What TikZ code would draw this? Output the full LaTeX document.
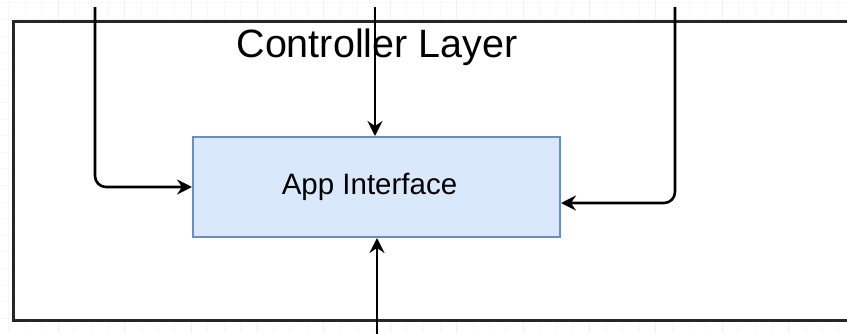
\documentclass[tikz,border=0pt]{standalone}
\usepackage{fontspec}
\setmainfont{Liberation Sans}
\usetikzlibrary{arrows.meta}
\definecolor{boxfill}{HTML}{DAE8FC}
\definecolor{boxdraw}{HTML}{6C8EBF}
\definecolor{gridminor}{HTML}{F7F7F7}
\definecolor{gridmajor}{HTML}{EFEFEF}
\tikzset{
  conn/.style={draw=black, line width=2.6pt, rounded corners=11pt,
    -{Stealth[length=15pt, width=15pt, inset=5pt]}},
  appbox/.style={draw=boxdraw, fill=boxfill, line width=2pt,
    minimum width=367pt, minimum height=100pt, inner sep=0pt,
    font=\fontsize{29.5}{34}\selectfont},
  layerbox/.style={draw=black!85, fill=white, line width=3pt},
  titletext/.style={font=\fontsize{39.5}{44}\selectfont, inner sep=0pt}
}
\begin{document}
\begin{tikzpicture}[x=1pt,y=-1pt]
\useasboundingbox (0,0) rectangle (847,333);
\clip (0,0) rectangle (847,333);
% background grid
\foreach \k in {-3,...,47} {
  \draw[gridminor, line width=1pt] ({58.3+\k*16.6},0) -- ({58.3+\k*16.6},333);
}
\foreach \k in {-1,...,19} {
  \draw[gridminor, line width=1pt] (0,{301.7-\k*16.6}) -- (847,{301.7-\k*16.6});
}
\foreach \k in {-1,...,12} {
  \draw[gridmajor, line width=1pt] ({58.3+\k*66.4},0) -- ({58.3+\k*66.4},333);
}
% layer
\path[layerbox] (13,21) rectangle (900,320);
\node[titletext, anchor=base] (title) at (377,57) {Controller Layer};
% app interface
\node[appbox] (app) at (376.5,187) {\hspace*{-14pt}App Interface};
% connectors
\coordinate (s1) at (95,7);
\coordinate (s2) at (375,7);
\coordinate (s3) at (675,7);
\coordinate (s4) at (377,340);
\draw[conn] (s1) |- (app.west);
\draw[conn] (s2) -- (s2 |- app.north);
\draw[conn] (s3) |- ([yshift=-16pt]app.east);
\draw[conn] (s4) -- (s4 |- app.south);
\end{tikzpicture}
\end{document}
